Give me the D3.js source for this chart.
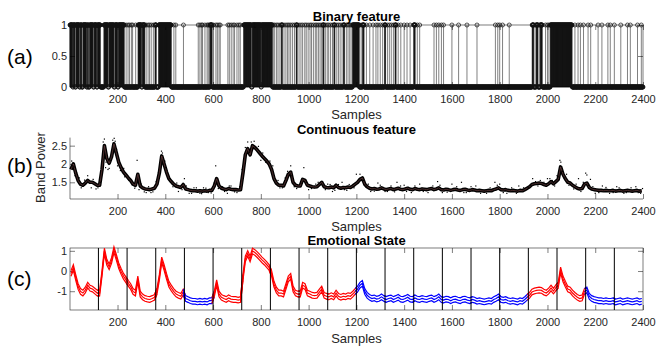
<!DOCTYPE html>
<html>
<head>
<meta charset="utf-8">
<script src="https://cdn.jsdelivr.net/npm/d3@7"></script>
<style>
  body { margin: 0; background: #fff; }
  svg { font-family: "Liberation Sans", Arial, Helvetica, sans-serif; }
</style>
</head>
<body>
<svg id="fig" width="656" height="346"></svg>
<script>
// ---- data ----
const xTicks = [200, 400, 600, 800, 1000, 1200, 1400, 1600, 1800, 2000, 2200, 2400];

// sample ranges [start, end] where the binary feature is 1
const binaryOnes = [
  [1,12],[15,22],[26,40],[44,50],[55,70],[74,78],[83,98],[102,112],[116,128],
  [143,160],[164,185],[189,200],[204,228],[236,236],[244,244],[250,250],[258,258],[263,263],[276,276],
  [286,300],[304,314],[320,320],[328,328],[334,334],[341,341],[350,350],[357,362],[372,425],
  [436,436],[444,444],[476,476],
  [538,538],[545,545],[552,552],[556,556],[566,566],[575,575],[580,580],[585,585],[588,596],[602,602],
  [612,612],[618,618],[625,625],[630,630],
  [662,662],[668,668],[676,676],[684,684],[690,690],[700,700],[708,708],[714,714],
  [728,760],[764,800],[803,848],
  [852,852],[858,858],[866,866],[872,872],[880,880],[886,890],[897,897],[905,905],[912,912],[918,918],
  [925,925],[933,933],[941,941],[948,952],[960,960],[968,968],[975,975],[984,984],[990,990],[998,998],
  [1006,1006],[1012,1012],[1020,1020],[1028,1028],[1034,1034],[1041,1041],[1048,1048],[1055,1055],
  [1060,1064],[1070,1070],[1078,1078],[1084,1084],[1092,1092],[1100,1100],[1106,1110],[1118,1118],
  [1125,1125],[1132,1132],[1140,1140],[1146,1150],[1158,1158],[1165,1165],[1172,1172],[1178,1178],
  [1184,1212],[1220,1220],[1226,1232],
  [1242,1242],[1256,1256],[1270,1270],[1282,1282],[1290,1290],[1300,1300],[1310,1310],[1318,1322],
  [1330,1330],[1338,1338],[1346,1346],[1355,1355],[1362,1366],[1375,1375],[1386,1386],[1400,1400],
  [1412,1412],[1425,1425],[1440,1446],[1455,1455],[1465,1465],
  [1525,1525],[1535,1535],[1545,1545],[1556,1556],[1565,1565],[1600,1600],[1628,1628],[1663,1663],[1705,1705],
  [1782,1782],[1792,1792],[1800,1800],[1812,1812],[1840,1840],
  [1936,1942],[1948,1948],[1953,1960],[1966,1966],[1970,1978],[1992,1992],[2000,2000],[2006,2006],[2012,2103],
  [2115,2115],[2128,2128],[2138,2138],[2151,2151],[2170,2170],[2181,2181],[2212,2212],[2228,2228],
  [2253,2253],[2263,2263],[2280,2280],[2307,2307],[2335,2335],[2347,2347],[2377,2377],[2393,2393]
];

// band power trend, one value per 10-sample bin (bin centres 5, 15, ..., 2395)
const bandPower = [
  1.85,2.0,1.75,1.55,1.45,1.42,1.48,1.55,1.5,1.5,
  1.46,1.42,1.42,1.85,2.5,2.15,2.02,2.2,2.55,2.3,
  2.05,1.9,1.78,1.7,1.62,1.55,1.45,1.42,1.72,1.4,
  1.35,1.32,1.31,1.3,1.32,1.34,1.45,1.75,2.22,2.0,
  1.78,1.6,1.52,1.45,1.4,1.38,1.36,1.44,1.32,1.3,
  1.28,1.27,1.27,1.26,1.27,1.26,1.27,1.26,1.28,1.28,
  1.4,1.6,1.4,1.34,1.32,1.3,1.33,1.31,1.3,1.3,
  1.29,1.3,1.75,2.25,2.42,2.25,2.5,2.45,2.38,2.3,
  2.22,2.15,2.08,2.0,1.85,1.6,1.48,1.42,1.42,1.4,
  1.55,1.72,1.78,1.5,1.42,1.4,1.4,1.58,1.55,1.42,
  1.4,1.38,1.37,1.38,1.44,1.5,1.38,1.36,1.35,1.37,
  1.35,1.42,1.36,1.34,1.36,1.35,1.37,1.36,1.4,1.45,
  1.5,1.58,1.62,1.45,1.38,1.34,1.32,1.33,1.31,1.32,
  1.35,1.32,1.3,1.32,1.33,1.3,1.32,1.34,1.31,1.3,
  1.32,1.34,1.31,1.3,1.33,1.31,1.3,1.32,1.31,1.3,
  1.32,1.33,1.3,1.32,1.35,1.3,1.29,1.31,1.3,1.28,
  1.3,1.31,1.29,1.28,1.3,1.31,1.29,1.28,1.3,1.29,
  1.27,1.28,1.27,1.26,1.27,1.28,1.27,1.3,1.32,1.35,
  1.3,1.29,1.3,1.28,1.27,1.28,1.27,1.26,1.28,1.27,
  1.3,1.34,1.38,1.44,1.46,1.47,1.48,1.47,1.44,1.42,
  1.46,1.52,1.46,1.52,1.58,1.92,1.72,1.6,1.5,1.48,
  1.42,1.38,1.34,1.32,1.33,1.45,1.48,1.36,1.32,1.3,
  1.29,1.28,1.28,1.27,1.28,1.27,1.27,1.28,1.26,1.27,
  1.28,1.26,1.27,1.28,1.27,1.26,1.27,1.28,1.26,1.27
];

// scattered raw samples around the band [sample, value]
const bandOutliers = [
  [8,2.08],[12,1.95],[18,1.92],[40,1.62],[75,1.68],[90,1.35],[110,1.32],[140,2.6],[145,2.68],[150,1.9],
  [160,1.85],[165,1.88],[180,2.65],[186,2.7],[190,2.62],[200,1.95],[230,1.65],[282,2.1],[290,1.3],[320,1.22],
  [340,1.22],[384,2.35],[388,2.3],[410,1.62],[455,1.25],[480,1.6],[500,1.2],[520,1.35],[545,1.2],[560,1.35],
  [580,1.22],[611,1.95],[640,1.38],[660,1.2],[675,1.4],[700,1.22],[735,2.45],[745,2.6],[760,2.6],[772,2.62],
  [790,2.48],[800,2.1],[850,1.95],[880,1.35],[912,1.8],[925,1.95],[940,1.38],[980,1.9],[1000,1.3],[1040,1.5],
  [1080,1.45],[1100,1.25],[1140,1.5],[1160,1.28],[1200,1.72],[1215,1.72],[1230,1.55],[1260,1.25],[1290,1.48],
  [1330,1.25],[1370,1.5],[1400,1.42],[1430,1.22],[1465,1.45],[1500,1.22],[1540,1.52],[1560,1.22],[1600,1.45],
  [1640,1.5],[1660,1.22],[1700,1.4],[1745,1.2],[1780,1.5],[1800,1.45],[1830,1.2],[1880,1.4],[1920,1.35],
  [1938,1.6],[1970,1.55],[2000,1.6],[2020,1.55],[2040,1.68],[2052,2.1],[2056,2.05],[2080,1.72],[2110,1.32],
  [2130,1.6],[2160,1.75],[2165,1.7],[2180,1.58],[2200,1.2],[2230,1.4],[2260,1.2],[2290,1.38],[2330,1.22],
  [2370,1.38],[2390,1.2],
  [22,1.68],[48,1.35],[62,1.56],[98,1.58],[118,1.35],[128,1.5],[152,2.05],[172,2.1],[196,2.4],[212,1.82],
  [226,1.88],[248,1.55],[262,1.52],[272,1.34],[300,1.45],[312,1.24],[330,1.38],[348,1.24],[362,1.52],[398,2.08],
  [402,1.9],[420,1.6],[432,1.38],[448,1.48],[470,1.3],[488,1.4],[510,1.2],[530,1.35],[552,1.19],[570,1.34],
  [592,1.21],[605,1.48],[622,1.33],[648,1.25],[668,1.4],[690,1.24],[712,1.38],[722,1.85],[752,2.32],[766,2.4],
  [782,2.45],[808,2.3],[820,2.05],[838,2.08],[858,1.52],[872,1.55],[890,1.35],[902,1.62],[930,1.68],[950,1.33],
  [968,1.48],[990,1.5],[1012,1.33],[1030,1.45],[1060,1.42],[1070,1.3],[1090,1.44],[1110,1.28],[1125,1.44],[1150,1.3],
  [1170,1.44],[1190,1.35],[1222,1.55],[1240,1.38],[1250,1.45],[1275,1.26],[1300,1.42],[1320,1.25],[1345,1.4],[1360,1.24],
  [1385,1.4],[1410,1.25],[1445,1.4],[1480,1.25],[1520,1.4],[1550,1.42],[1580,1.23],[1620,1.38],[1650,1.22],[1680,1.38],
  [1720,1.2],[1760,1.35],[1790,1.42],[1815,1.22],[1850,1.35],[1870,1.2],[1900,1.35],[1930,1.42],[1950,1.52],[1960,1.4],
  [1985,1.5],[2010,1.6],[2030,1.4],[2045,1.65],[2062,1.8],[2070,1.62],[2090,1.42],[2120,1.45],[2140,1.25],[2150,1.5],
  [2172,1.42],[2190,1.38],[2215,1.22],[2245,1.36],[2275,1.22],[2300,1.35],[2320,1.2],[2350,1.35],[2380,1.22],[2398,1.33]
];

// emotional state estimate (mean), same 10-sample bins
const stateMean = [
  -0.12,0.17,-0.32,-0.77,-1.01,-1.09,-0.94,-0.70,-0.85,-0.89,
  -0.99,-1.09,-1.09,-0.12,0.99,0.44,0.21,0.52,1.06,0.68,
  0.26,-0.02,-0.26,-0.43,-0.61,-0.77,-1.01,-1.09,-0.39,-1.14,
  -1.28,-1.36,-1.39,-1.41,-1.36,-1.30,-1.01,-0.32,0.55,0.17,
  -0.26,-0.65,-0.84,-1.01,-1.14,-1.20,-1.25,-1.04,-1.36,-1.41,
  -1.47,-1.50,-1.50,-1.53,-1.50,-1.53,-1.50,-1.53,-1.47,-1.47,
  -1.14,-0.58,-1.14,-1.30,-1.36,-1.41,-1.33,-1.39,-1.41,-1.41,
  -1.44,-1.41,-0.32,0.60,0.87,0.60,0.99,0.92,0.81,0.68,
  0.55,0.44,0.31,0.17,-0.12,-0.65,-0.94,-1.09,-1.09,-1.14,
  -0.77,-0.39,-0.26,-0.89,-1.09,-1.14,-1.14,-0.70,-0.77,-1.09,
  -1.14,-1.20,-1.22,-1.20,-1.04,-0.89,-1.20,-1.25,-1.28,-1.22,
  -1.28,-1.09,-1.25,-1.30,-1.25,-1.28,-1.22,-1.25,-1.14,-1.01,
  -0.89,-0.70,-0.61,-1.01,-1.20,-1.30,-1.36,-1.33,-1.39,-1.36,
  -1.28,-1.36,-1.41,-1.36,-1.33,-1.41,-1.36,-1.30,-1.39,-1.41,
  -1.36,-1.30,-1.39,-1.41,-1.33,-1.39,-1.41,-1.36,-1.39,-1.41,
  -1.36,-1.33,-1.41,-1.36,-1.28,-1.41,-1.44,-1.39,-1.41,-1.47,
  -1.41,-1.39,-1.44,-1.47,-1.41,-1.39,-1.44,-1.47,-1.41,-1.44,
  -1.50,-1.47,-1.50,-1.53,-1.50,-1.47,-1.50,-1.41,-1.36,-1.28,
  -1.41,-1.44,-1.41,-1.47,-1.50,-1.47,-1.50,-1.53,-1.47,-1.50,
  -1.41,-1.30,-1.20,-1.04,-0.99,-0.96,-0.94,-0.96,-1.04,-1.09,
  -0.99,-0.84,-0.99,-0.84,-0.70,0.05,-0.39,-0.65,-0.89,-0.94,
  -1.09,-1.20,-1.30,-1.36,-1.33,-1.01,-0.94,-1.25,-1.36,-1.41,
  -1.44,-1.47,-1.47,-1.50,-1.47,-1.50,-1.50,-1.47,-1.53,-1.50,
  -1.47,-1.53,-1.50,-1.47,-1.50,-1.53,-1.50,-1.47,-1.53,-1.50
];
const stateSpread = 0.14;

// 120-sample segments and their state (1 = high / red, 0 = low / blue)
const segmentEdges = [0,120,240,360,480,600,720,840,960,1080,1200,1320,1440,1560,1680,1800,1920,2040,2160,2280,2400];
const segmentState = [1,1,1,1,0,1,1,1,1,1,0,0,0,0,0,0,1,1,0,0];

// ---- drawing ----
const svg = d3.select('#fig');
const axisColor = '#262626';
const x = d3.scaleLinear().domain([1, 2400]).range([70, 643]);
const binCenter = i => i * 10 + 5;

function styleAxis(g) {
  g.select('.domain').remove();
  g.selectAll('line').attr('stroke', axisColor).attr('stroke-width', 0.6);
  g.selectAll('text').attr('fill', axisColor).attr('font-size', 11);
}

function addAxes(y, yTicks, top, bottom, box) {
  svg.append('g').attr('transform', `translate(0,${bottom})`)
    .call(d3.axisBottom(x).tickValues(xTicks).tickSize(-5).tickPadding(8).tickFormat(d => d))
    .call(styleAxis);
  svg.append('g').attr('transform', 'translate(70,0)')
    .call(d3.axisLeft(y).tickValues(yTicks).tickSize(-5).tickPadding(3).tickFormat(d => String(d)))
    .call(styleAxis);
  if (box) {
    svg.append('g').attr('transform', `translate(0,${top})`)
      .call(d3.axisTop(x).tickValues(xTicks).tickSize(-5).tickFormat(''))
      .call(styleAxis);
    svg.append('g').attr('transform', 'translate(643,0)')
      .call(d3.axisRight(y).tickValues(yTicks).tickSize(-5).tickFormat(''))
      .call(styleAxis);
    svg.append('rect').attr('x', 70).attr('y', top).attr('width', 573).attr('height', bottom - top)
      .attr('fill', 'none').attr('stroke', axisColor).attr('stroke-width', 0.6);
  } else {
    svg.append('line').attr('x1', 70).attr('x2', 70).attr('y1', top).attr('y2', bottom)
      .attr('stroke', axisColor).attr('stroke-width', 0.6);
    svg.append('line').attr('x1', 70).attr('x2', 643).attr('y1', bottom).attr('y2', bottom)
      .attr('stroke', axisColor).attr('stroke-width', 0.6);
  }
}

function labels(title, titleY, xlabY, letter, letterY) {
  svg.append('text').attr('x', 356.5).attr('y', titleY).attr('text-anchor', 'middle')
    .attr('font-size', 13).attr('font-weight', 'bold').attr('fill', '#000').text(title);
  svg.append('text').attr('x', 356.5).attr('y', xlabY).attr('text-anchor', 'middle')
    .attr('font-size', 13).attr('fill', axisColor).text('Samples');
  svg.append('text').attr('x', 7).attr('y', letterY)
    .attr('font-size', 21).attr('fill', '#000').text(letter);
}

// (a) binary feature
const yA = d3.scaleLinear().domain([0, 1]).range([87, 25]);
const onesSet = new Set();
binaryOnes.forEach(([a, b]) => d3.range(a, b + 1).forEach(i => onesSet.add(i)));
const binary = d3.range(1, 2401).map(s => ({ s, v: onesSet.has(s) ? 1 : 0 }));

addAxes(yA, [0, 0.5, 1], 25, 87, true);
const ga = svg.append('g');
ga.selectAll('line.stem').data(binary.filter(d => d.v === 1)).join('line')
  .attr('class', 'stem')
  .attr('x1', d => x(d.s)).attr('x2', d => x(d.s))
  .attr('y1', yA(0)).attr('y2', d => yA(d.v))
  .attr('stroke', '#000').attr('stroke-width', 0.5);
ga.append('line').attr('x1', 70).attr('x2', 643).attr('y1', yA(0)).attr('y2', yA(0))
  .attr('stroke', '#000').attr('stroke-width', 0.5);
ga.selectAll('circle').data(binary).join('circle')
  .attr('cx', d => x(d.s)).attr('cy', d => yA(d.v)).attr('r', 2)
  .attr('fill', 'none').attr('stroke', '#111').attr('stroke-width', 0.7);
labels('Binary feature', 20.5, 118.5, '(a)', 64);

// (b) continuous feature
const yB = d3.scaleLinear().domain([1.045, 2.72]).range([199, 137.6]);
addAxes(yB, [1.5, 2, 2.5], 137.6, 199, false);
const bandData = bandPower.map((v, i) => ({ s: binCenter(i), v }));
const lineB = d3.line().x(d => x(d.s)).y(d => yB(d.v));
svg.append('path').datum(bandData).attr('d', lineB)
  .attr('fill', 'none').attr('stroke', '#000').attr('stroke-width', 3.6).attr('stroke-linejoin', 'round');
svg.append('path').datum(bandData).attr('d', lineB)
  .attr('fill', 'none').attr('stroke', '#7a4848').attr('stroke-width', 0.6);
svg.append('g').selectAll('rect').data(bandOutliers).join('rect')
  .attr('x', d => x(d[0]) - 0.6).attr('y', d => yB(d[1]) - 0.6)
  .attr('width', 1.2).attr('height', 1.2).attr('fill', '#000');
svg.append('text').attr('transform', 'translate(45,167.5) rotate(-90)').attr('text-anchor', 'middle')
  .attr('font-size', 13).attr('fill', axisColor).text('Band Power');
labels('Continuous feature', 133.5, 231, '(b)', 173);

// (c) emotional state
const yC = d3.scaleLinear().domain([-1.93, 1.14]).range([310, 248]);
addAxes(yC, [-1, 0, 1], 248, 310, true);
const stateData = stateMean.map((v, i) => ({ s: binCenter(i), v }));
const gc = svg.append('g');
segmentState.forEach((st, k) => {
  const a = segmentEdges[k], b = segmentEdges[k + 1];
  const pts = stateData.filter(d => d.s >= a - 5 && d.s <= b + 5);
  const color = st === 1 ? '#ff0000' : '#0000ff';
  [-stateSpread, 0, stateSpread].forEach(off => {
    gc.append('path').datum(pts)
      .attr('d', d3.line().x(d => x(Math.max(1, Math.min(2400, d.s)))).y(d => yC(d.v + off)))
      .attr('fill', 'none').attr('stroke', color).attr('stroke-width', 1.2);
  });
});
gc.selectAll('line.seg').data(segmentEdges.slice(1, -1)).join('line')
  .attr('class', 'seg')
  .attr('x1', d => x(d)).attr('x2', d => x(d))
  .attr('y1', 248).attr('y2', 310)
  .attr('stroke', '#000').attr('stroke-width', 1);
labels('Emotional State', 245, 342.5, '(c)', 286);
</script>
</body>
</html>
